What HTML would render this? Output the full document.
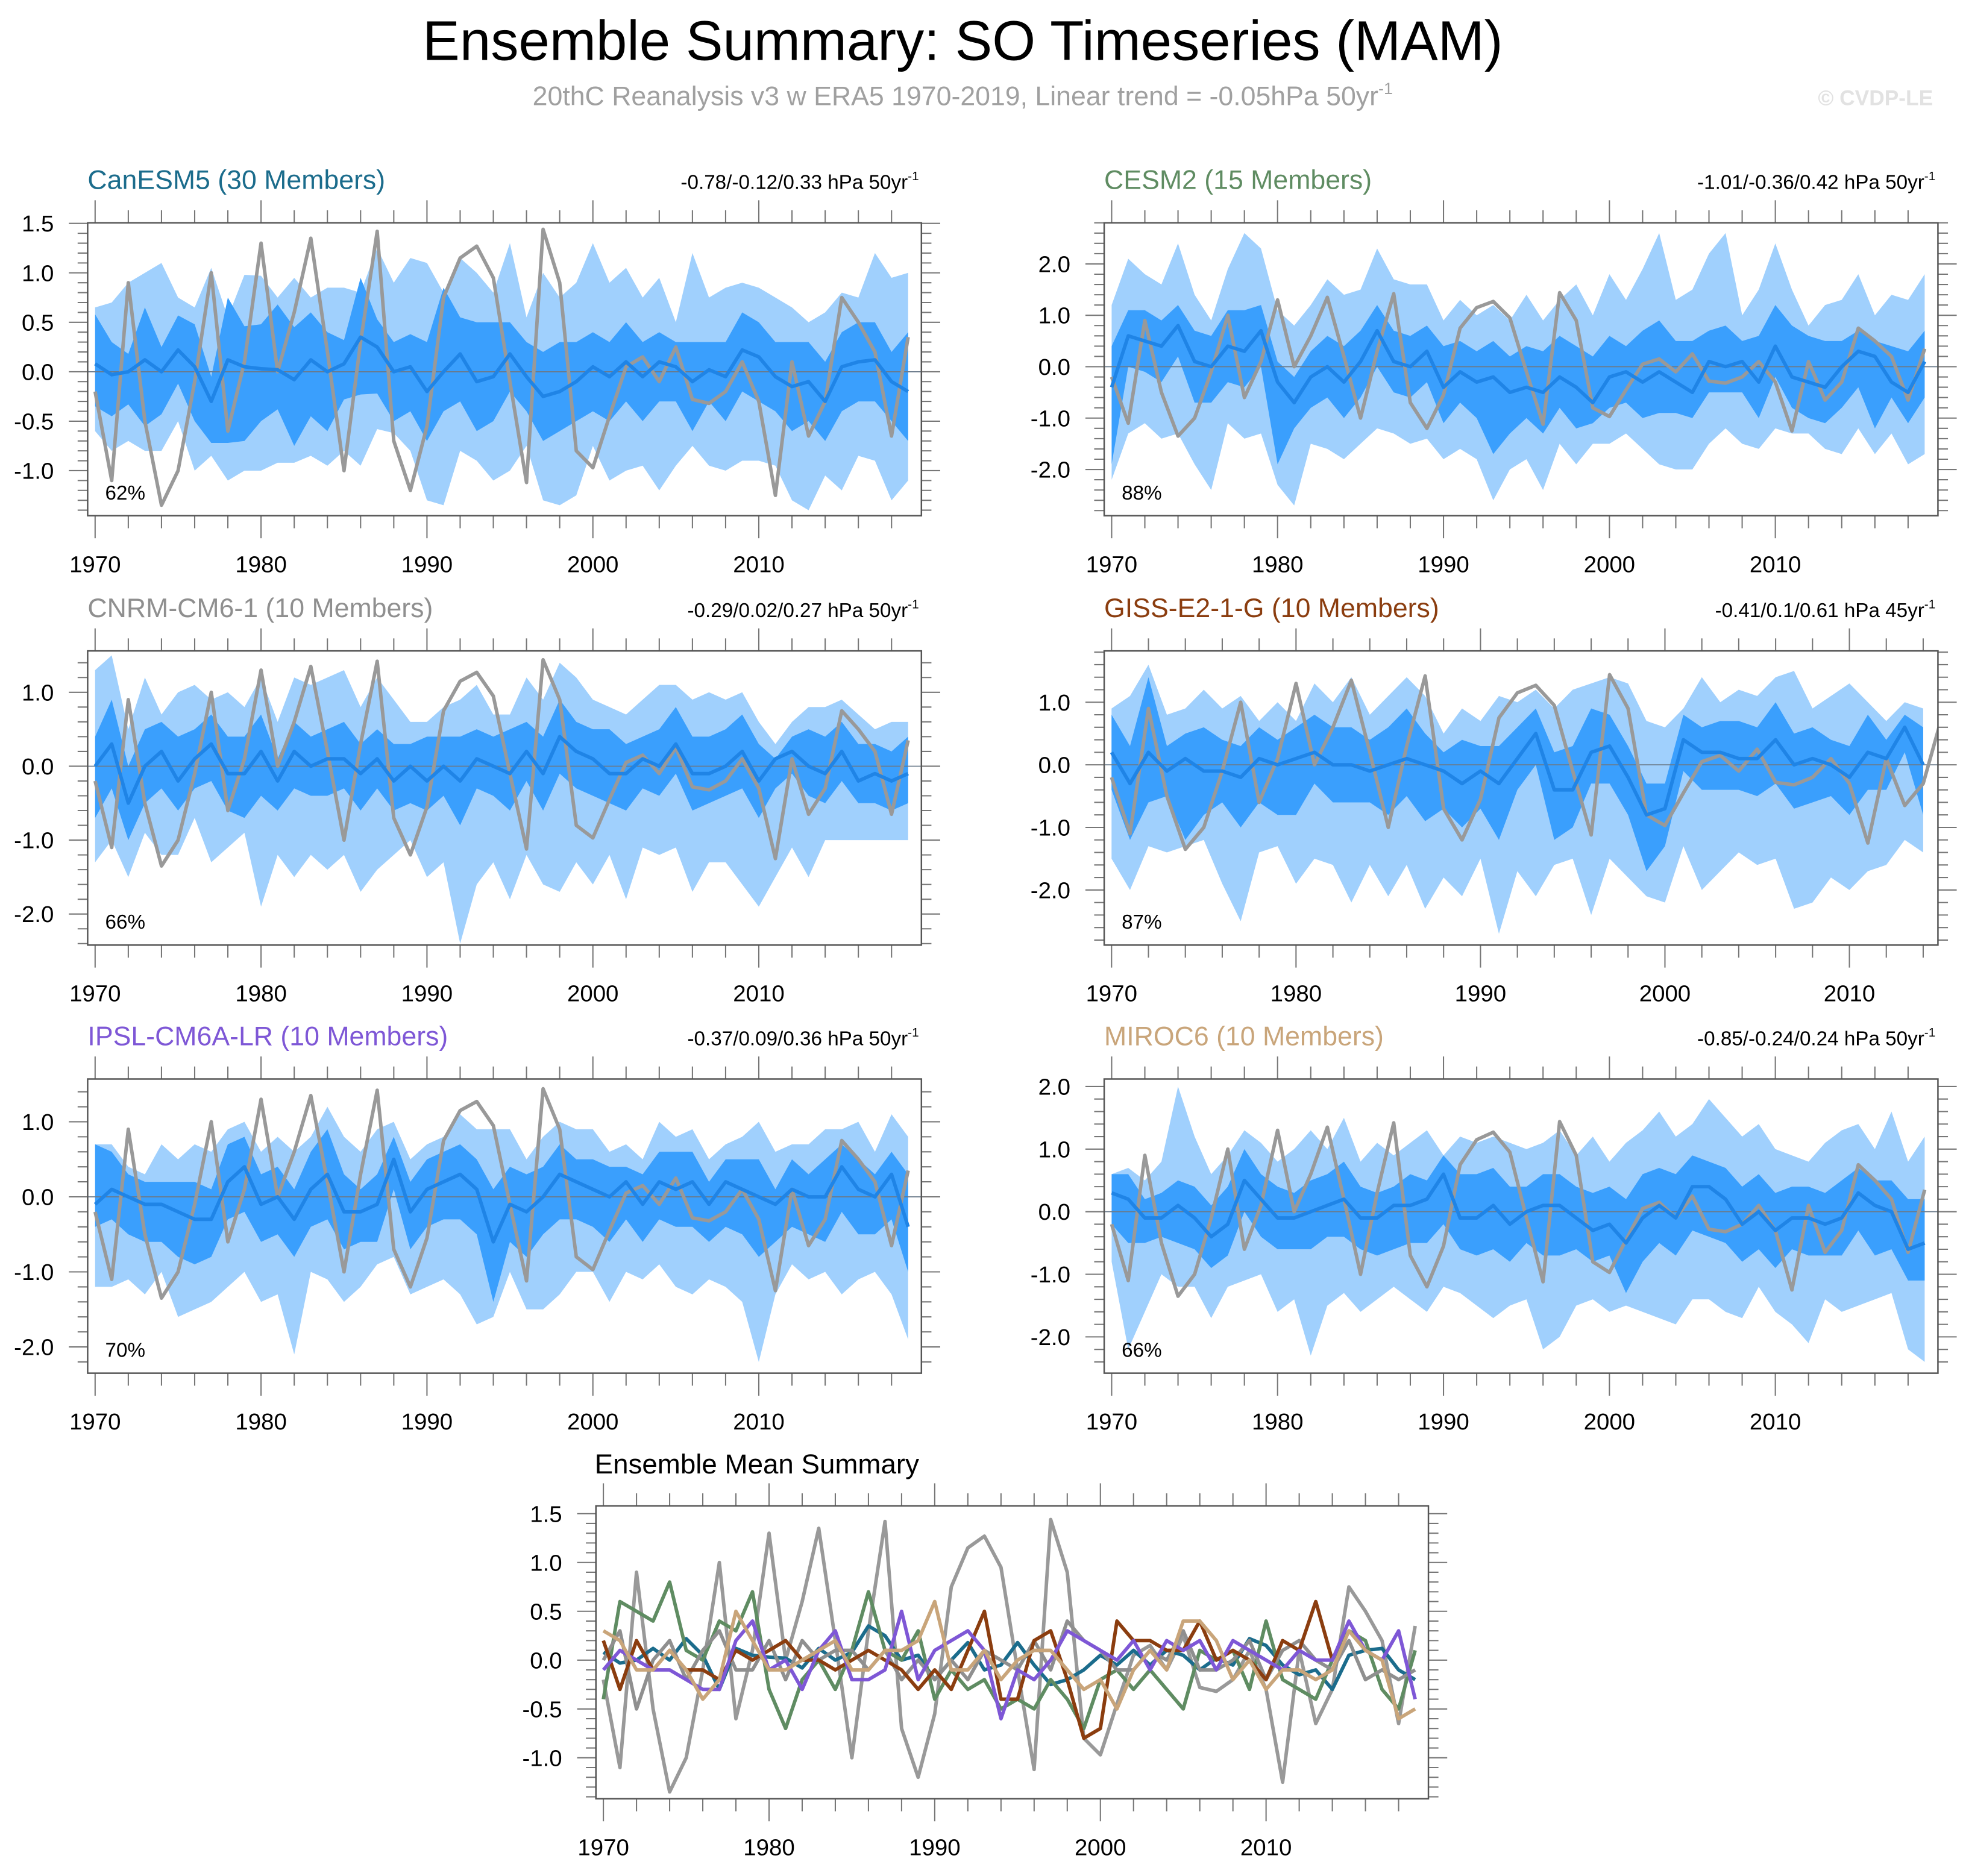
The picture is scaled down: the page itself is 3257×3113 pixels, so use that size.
<!DOCTYPE html>
<html><head><meta charset="utf-8"><style>
html,body{margin:0;padding:0;background:#fff;}
svg{display:block;font-family:"Liberation Sans",sans-serif;}
</style></head><body>
<svg id="chart" width="3257" height="3113" viewBox="0 0 1568 1498.7" xmlns="http://www.w3.org/2000/svg">
<text x="769" y="48" font-size="44.5" text-anchor="middle" fill="#000">Ensemble Summary: SO Timeseries (MAM)</text>
<text x="769" y="84" font-size="21.5" text-anchor="middle" fill="#a0a0a0">20thC Reanalysis v3 w ERA5 1970-2019, Linear trend = -0.05hPa 50yr<tspan font-size="13" dy="-9">-1</tspan></text>
<text x="1544" y="84" font-size="17" font-weight="bold" text-anchor="end" fill="#e2e2e2">© CVDP-LE</text>
<g id="plots"></g>
</svg>
<script>
const years = [];
for (let y = 1970; y <= 2019; y++) years.push(y);
const obs = [-0.2,-1.1,0.9,-0.5,-1.35,-1.0,-0.1,1.0,-0.6,0.1,1.3,0.0,0.6,1.35,0.2,-1.0,0.3,1.42,-0.7,-1.2,-0.55,0.75,1.15,1.27,0.95,-0.1,-1.12,1.44,0.9,-0.8,-0.97,-0.45,0.05,0.15,-0.1,0.25,-0.28,-0.32,-0.2,0.1,-0.3,-1.25,0.1,-0.65,-0.3,0.75,0.5,0.2,-0.65,0.35];

const canMean = [0.08,-0.03,0.0,0.12,0.0,0.22,0.05,-0.3,0.12,0.05,0.03,0.02,-0.08,0.12,0.0,0.08,0.35,0.25,0.0,0.05,-0.2,0.0,0.18,-0.1,-0.05,0.18,-0.05,-0.25,-0.2,-0.1,0.05,-0.05,0.1,-0.05,0.1,0.05,-0.1,0.02,-0.05,0.22,0.15,-0.05,-0.15,-0.1,-0.3,0.05,0.1,0.12,-0.1,-0.2];
const canOutHi = [0.65,0.7,0.9,1.0,1.1,0.75,0.65,1.05,0.55,0.98,0.97,0.75,0.95,0.75,0.85,0.85,0.8,1.25,0.9,1.15,1.1,0.8,1.15,1.0,0.8,1.3,0.55,1.0,0.75,0.9,1.3,0.9,1.05,0.75,0.95,0.5,1.2,0.75,0.85,0.9,0.85,0.75,0.65,0.5,0.6,0.8,0.75,1.2,0.95,1.0];
const canOutLo = [-0.6,-0.8,-0.7,-0.8,-0.8,-0.5,-1.0,-0.85,-1.1,-1.0,-1.0,-0.92,-0.92,-0.85,-0.95,-0.8,-0.95,-0.58,-0.62,-0.8,-1.3,-1.35,-0.8,-0.9,-1.1,-1.0,-0.75,-1.3,-1.35,-1.25,-0.75,-1.1,-1.0,-0.95,-1.2,-0.95,-0.75,-0.95,-1.0,-0.9,-0.9,-0.95,-1.3,-1.4,-1.05,-1.2,-0.85,-0.9,-1.3,-1.1];
const canInHi = [0.58,0.3,0.18,0.65,0.25,0.57,0.48,-0.05,0.75,0.46,0.48,0.68,0.45,0.6,0.4,0.32,0.95,0.53,0.3,0.38,0.3,0.85,0.55,0.5,0.5,0.5,0.3,0.2,0.3,0.3,0.4,0.3,0.5,0.3,0.4,0.3,0.3,0.3,0.3,0.6,0.5,0.3,0.3,0.3,0.1,0.4,0.5,0.5,0.2,0.4];
const canInLo = [-0.35,-0.45,-0.33,-0.55,-0.43,-0.12,-0.5,-0.72,-0.72,-0.7,-0.5,-0.38,-0.75,-0.45,-0.6,-0.28,-0.23,-0.22,-0.5,-0.4,-0.7,-0.4,-0.3,-0.6,-0.5,-0.2,-0.4,-0.7,-0.6,-0.5,-0.4,-0.5,-0.3,-0.5,-0.3,-0.3,-0.6,-0.3,-0.5,-0.2,-0.3,-0.4,-0.6,-0.5,-0.7,-0.4,-0.3,-0.3,-0.5,-0.7];

const cesmMean = [-0.4,0.6,0.5,0.4,0.8,0.1,0.0,0.4,0.3,0.7,-0.3,-0.7,-0.2,0.0,-0.3,0.1,0.7,0.1,0.0,0.3,-0.4,-0.1,-0.3,-0.2,-0.5,-0.4,-0.5,-0.2,-0.4,-0.7,-0.2,-0.1,-0.3,-0.1,-0.3,-0.5,0.1,0.0,0.1,-0.3,0.4,-0.2,-0.3,-0.4,0.0,0.3,0.2,-0.3,-0.5,0.1];
const cesmOutHi = [1.2,2.1,1.8,1.6,2.4,1.4,0.9,1.9,2.6,2.3,1.1,0.8,1.2,1.7,1.4,1.5,2.3,1.7,1.6,1.6,0.9,1.3,1.0,1.2,0.9,1.4,0.9,1.3,1.6,1.0,1.8,1.3,1.9,2.6,1.3,1.5,2.2,2.6,1.0,1.5,2.4,1.5,0.8,1.2,1.3,1.8,1.0,1.4,1.3,1.8];
const cesmOutLo = [-2.2,-1.3,-1.1,-1.4,-1.3,-1.9,-2.4,-1.1,-1.4,-1.3,-2.3,-2.7,-1.5,-1.6,-1.8,-1.5,-1.2,-1.3,-1.5,-1.4,-1.8,-1.6,-1.8,-2.6,-2.0,-1.8,-2.4,-1.5,-1.9,-1.5,-1.5,-1.3,-1.6,-1.9,-2.0,-2.0,-1.5,-1.2,-1.5,-1.6,-1.2,-1.3,-1.3,-1.6,-1.7,-1.2,-1.7,-1.3,-1.9,-1.7];
const cesmInHi = [0.4,1.1,1.1,0.9,1.2,0.7,0.6,1.1,1.1,1.2,0.1,-0.2,0.3,0.6,0.4,0.7,1.2,0.7,0.6,0.8,0.4,0.5,0.3,0.5,0.2,0.4,0.3,0.6,0.4,0.2,0.6,0.4,0.7,0.9,0.5,0.5,0.7,0.8,0.5,0.6,1.2,0.8,0.6,0.5,0.5,0.7,0.5,0.4,0.3,0.7];
const cesmInLo = [-1.9,0.0,-0.1,-0.3,0.2,-0.7,-0.7,-0.3,-0.4,0.0,-1.9,-1.2,-0.8,-0.6,-1.0,-0.6,0.0,-0.5,-0.6,-0.3,-1.1,-0.7,-1.0,-1.7,-1.3,-1.0,-1.3,-0.8,-1.2,-1.1,-0.8,-0.7,-1.0,-0.9,-0.9,-1.0,-0.5,-0.5,-0.5,-1.0,-0.2,-0.8,-1.0,-1.1,-0.8,-0.4,-1.2,-0.6,-1.1,-0.6];

const cnrmMean = [0.0,0.3,-0.5,0.0,0.2,-0.2,0.1,0.3,-0.1,-0.1,0.2,-0.2,0.2,0.0,0.1,0.1,-0.1,0.1,-0.2,0.0,-0.2,0.0,-0.2,0.1,0.0,-0.1,0.2,-0.1,0.4,0.2,0.1,-0.1,-0.1,0.1,0.0,0.3,-0.1,-0.1,0.0,0.2,-0.2,0.1,0.2,0.0,-0.1,0.2,-0.2,-0.1,-0.2,-0.1];
const cnrmOutHi = [1.3,1.5,0.5,1.2,0.7,1.0,1.1,0.9,1.0,0.8,1.2,0.6,1.2,1.1,1.2,1.3,0.8,1.2,0.9,0.6,0.6,0.8,0.9,1.1,0.7,0.7,1.2,0.9,1.4,1.2,0.9,0.8,0.7,0.9,1.1,1.1,0.9,1.0,0.9,1.0,0.6,0.3,0.6,0.8,0.8,0.9,0.7,0.5,0.6,0.6];
const cnrmOutLo = [-1.3,-1.0,-1.5,-0.9,-1.2,-1.2,-0.7,-1.3,-1.1,-0.9,-1.9,-1.2,-1.5,-1.2,-1.4,-1.2,-1.7,-1.4,-1.2,-1.0,-1.5,-1.3,-2.4,-1.6,-1.3,-1.8,-1.2,-1.6,-1.7,-1.3,-1.6,-1.2,-1.8,-1.1,-1.2,-1.1,-1.7,-1.3,-1.3,-1.6,-1.9,-1.5,-1.1,-1.5,-1.0,-1.0,-1.0,-1.0,-1.0,-1.0];
const cnrmInHi = [0.4,0.9,0.0,0.5,0.6,0.4,0.5,0.7,0.4,0.4,0.7,0.1,0.6,0.4,0.5,0.6,0.3,0.5,0.3,0.3,0.4,0.4,0.4,0.5,0.4,0.5,0.6,0.4,0.9,0.6,0.5,0.5,0.3,0.4,0.5,0.8,0.4,0.4,0.5,0.7,0.3,0.1,0.4,0.5,0.4,0.6,0.3,0.3,0.2,0.4];
const cnrmInLo = [-0.7,-0.3,-1.0,-0.5,-0.3,-0.6,-0.3,-0.2,-0.6,-0.7,-0.4,-0.6,-0.3,-0.4,-0.4,-0.3,-0.6,-0.3,-0.6,-0.5,-0.6,-0.4,-0.8,-0.3,-0.4,-0.6,-0.2,-0.6,-0.1,-0.3,-0.4,-0.5,-0.6,-0.3,-0.4,-0.1,-0.6,-0.5,-0.4,-0.3,-0.7,-0.3,-0.1,-0.4,-0.5,-0.2,-0.5,-0.5,-0.6,-0.5];

const gissMean = [0.2,-0.3,0.2,-0.1,0.1,-0.1,-0.1,-0.2,0.1,0.0,0.1,0.2,0.0,0.0,-0.1,0.0,0.1,0.0,-0.1,-0.3,-0.1,-0.3,0.1,0.5,-0.4,-0.4,0.2,0.3,-0.2,-0.8,-0.7,0.4,0.2,0.2,0.1,0.1,0.4,0.0,0.1,0.0,-0.2,0.2,0.1,0.6,0.0];
const gissOutHi = [0.9,1.1,1.6,0.8,0.9,1.2,0.9,1.1,0.7,1.0,0.7,1.3,1.0,1.4,0.8,1.1,1.4,1.1,0.5,0.9,0.7,1.1,1.0,1.2,0.9,1.2,1.3,1.4,1.3,0.7,0.6,0.9,1.4,1.0,1.2,1.1,1.4,1.5,0.9,1.1,1.3,1.0,0.7,1.0,0.9];
const gissOutLo = [-1.5,-2.0,-1.3,-1.4,-1.3,-1.2,-1.9,-2.5,-1.4,-1.3,-1.9,-1.5,-1.6,-2.2,-1.6,-2.1,-1.6,-2.3,-1.8,-2.1,-1.5,-2.7,-1.7,-2.1,-1.6,-1.5,-2.4,-1.5,-1.8,-2.1,-2.2,-1.3,-2.0,-1.7,-1.4,-1.6,-1.5,-2.3,-2.2,-1.8,-2.0,-1.7,-1.6,-1.2,-1.4];
const gissInHi = [0.8,0.3,1.4,0.3,0.5,0.6,0.4,0.3,0.6,0.4,0.6,0.8,0.6,0.6,0.4,0.6,0.9,0.5,0.2,0.4,0.3,0.3,0.6,0.9,0.2,0.3,0.9,0.8,0.3,-0.3,-0.3,0.8,0.6,0.7,0.7,0.6,1.0,0.5,0.6,0.4,0.3,0.8,0.4,0.8,0.6];
const gissInLo = [-0.4,-1.2,-0.6,-0.5,-1.2,-0.8,-0.6,-1.0,-0.6,-0.8,-0.8,-0.3,-0.6,-0.6,-0.6,-0.8,-0.5,-0.9,-0.7,-1.0,-0.7,-1.2,-0.4,0.0,-1.2,-1.0,-0.3,-0.3,-0.8,-1.7,-1.3,-0.1,-0.4,-0.4,-0.4,-0.5,-0.3,-0.7,-0.6,-0.5,-0.8,-0.4,-0.4,0.2,-0.8];

const ipslMean = [-0.1,0.1,0.0,-0.1,-0.1,-0.2,-0.3,-0.3,0.2,0.4,-0.1,0.0,-0.3,0.1,0.3,-0.2,-0.2,-0.1,0.5,-0.2,0.1,0.2,0.3,0.1,-0.6,-0.1,-0.2,0.0,0.3,0.2,0.1,0.0,0.2,-0.1,0.2,0.1,0.2,-0.1,0.2,0.1,0.0,-0.1,0.1,0.0,0.0,0.4,0.1,0.0,0.3,-0.4];
const ipslOutHi = [0.7,0.7,0.4,0.3,0.7,0.5,0.7,0.6,0.9,1.0,0.6,0.8,0.6,0.8,1.2,0.8,0.6,0.9,1.0,0.5,0.7,0.8,1.1,0.9,0.9,0.9,0.5,0.8,1.0,0.9,0.9,0.6,0.7,0.5,1.0,0.8,0.9,0.5,0.7,0.8,1.0,0.6,0.7,0.7,0.9,0.9,1.0,0.6,1.1,0.8];
const ipslOutLo = [-1.2,-1.2,-1.1,-1.3,-1.0,-1.6,-1.5,-1.4,-1.2,-1.0,-1.4,-1.3,-2.1,-1.0,-1.1,-1.4,-1.2,-0.9,-0.8,-1.3,-1.2,-1.1,-1.3,-1.7,-1.6,-1.0,-1.5,-1.5,-1.3,-1.0,-1.0,-1.4,-1.0,-1.1,-0.9,-1.2,-1.3,-1.1,-1.2,-1.4,-2.2,-1.3,-0.9,-1.1,-1.0,-1.3,-1.1,-1.0,-1.3,-1.9];
const ipslInHi = [0.7,0.6,0.3,0.2,0.2,0.2,0.2,0.1,0.7,0.8,0.3,0.4,0.1,0.6,0.9,0.3,0.1,0.3,0.8,0.2,0.5,0.6,0.7,0.5,0.1,0.4,0.3,0.4,0.7,0.5,0.5,0.4,0.4,0.3,0.6,0.6,0.6,0.2,0.5,0.5,0.5,0.1,0.5,0.3,0.5,0.7,0.5,0.3,0.6,0.3];
const ipslInLo = [-0.4,-0.3,-0.5,-0.6,-0.6,-0.8,-0.9,-0.8,-0.3,-0.2,-0.6,-0.5,-0.8,-0.4,-0.3,-0.7,-0.6,-0.6,0.1,-0.7,-0.4,-0.3,-0.3,-0.5,-1.4,-0.6,-0.8,-0.5,-0.3,-0.3,-0.4,-0.6,-0.3,-0.6,-0.3,-0.4,-0.4,-0.6,-0.4,-0.5,-0.8,-0.6,-0.4,-0.5,-0.6,-0.2,-0.5,-0.5,-0.3,-1.0];

const mirocMean = [0.3,0.2,-0.1,-0.1,0.1,-0.1,-0.4,-0.2,0.5,0.2,-0.1,-0.1,0.0,0.1,0.2,-0.1,-0.1,0.1,0.1,0.2,0.6,-0.1,-0.1,0.1,-0.2,0.0,0.1,0.1,-0.1,-0.3,-0.2,-0.5,-0.1,0.1,-0.1,0.4,0.4,0.2,-0.2,0.0,-0.3,-0.1,-0.1,-0.2,-0.1,0.3,0.1,0.0,-0.6,-0.5];
const mirocOutHi = [0.6,0.7,0.5,0.8,2.0,1.2,0.6,0.9,1.3,1.1,0.8,1.0,1.3,1.0,1.5,0.8,1.1,0.9,1.1,1.3,0.9,1.2,1.1,1.2,1.1,1.0,1.1,1.3,0.9,1.2,0.8,1.1,1.3,1.6,1.2,1.4,1.8,1.5,1.2,1.4,1.0,0.9,0.8,1.1,1.3,1.4,1.0,1.6,0.8,1.2];
const mirocOutLo = [-0.8,-2.2,-1.6,-1.0,-1.2,-1.2,-1.7,-1.2,-1.1,-1.0,-1.6,-1.4,-2.3,-1.5,-1.3,-1.6,-1.4,-1.2,-1.4,-1.6,-1.2,-1.3,-1.5,-1.7,-1.5,-1.4,-2.2,-2.0,-1.5,-1.4,-1.6,-1.5,-1.6,-1.7,-1.8,-1.4,-1.4,-1.6,-1.7,-1.2,-1.6,-1.8,-2.1,-1.4,-1.6,-1.5,-1.4,-1.3,-2.2,-2.4];
const mirocInHi = [0.6,0.6,0.2,0.3,0.5,0.4,0.1,0.4,1.0,0.6,0.4,0.3,0.5,0.6,0.8,0.4,0.3,0.4,0.6,0.5,0.9,0.6,0.6,0.7,0.4,0.4,0.6,0.6,0.4,0.3,0.4,0.2,0.6,0.7,0.6,0.9,0.8,0.7,0.4,0.6,0.3,0.4,0.4,0.3,0.5,0.7,0.5,0.5,0.2,0.2];
const mirocInLo = [-0.2,-0.5,-0.5,-0.4,-0.5,-0.6,-0.9,-0.7,0.0,-0.4,-0.6,-0.6,-0.6,-0.4,-0.4,-0.6,-0.7,-0.6,-0.5,-0.5,-0.2,-0.6,-0.7,-0.6,-0.8,-0.5,-0.7,-0.7,-0.6,-0.8,-0.7,-1.3,-0.8,-0.5,-0.7,-0.3,-0.4,-0.5,-0.8,-0.6,-0.9,-0.6,-0.7,-0.7,-0.7,-0.3,-0.7,-0.6,-1.1,-1.1];

const xTickLabels = ["1970","1980","1990","2000","2010"];
const modelNames = ["CanESM5 (30 Members)","CESM2 (15 Members)","CNRM-CM6-1 (10 Members)","GISS-E2-1-G (10 Members)","IPSL-CM6A-LR (10 Members)","MIROC6 (10 Members)"];
const trendLabels = ["-0.78/-0.12/0.33 hPa 50yr","-1.01/-0.36/0.42 hPa 50yr","-0.29/0.02/0.27 hPa 50yr","-0.41/0.1/0.61 hPa 45yr","-0.37/0.09/0.36 hPa 50yr","-0.85/-0.24/0.24 hPa 50yr"];
const pctLabels = ["62%","88%","66%","87%","70%","66%"];

const NS = "http://www.w3.org/2000/svg";
const root = document.getElementById('plots');
function mk(tag, attrs, parent) {
  const e = document.createElementNS(NS, tag);
  for (const k in attrs) e.setAttribute(k, attrs[k]);
  (parent || root).appendChild(e);
  return e;
}

const panels = [
  {key:'canesm5', color:'#1b6c8c', box:[70,178,736,412], xr:[1969.55,2019.8], yr:[1.506,-1.456], yt:[-1,-0.5,0,0.5,1,1.5], minor:0.1, mean:canMean, oh:canOutHi, ol:canOutLo, ih:canInHi, il:canInLo},
  {key:'cesm2', color:'#5f8c62', box:[882,178,1548,412], xr:[1969.55,2019.8], yr:[2.8,-2.9], yt:[-2,-1,0,1,2], minor:0.2, mean:cesmMean, oh:cesmOutHi, ol:cesmOutLo, ih:cesmInHi, il:cesmInLo},
  {key:'cnrm-cm6-1', color:'#8f8f8f', box:[70,520,736,755], xr:[1969.55,2019.8], yr:[1.56,-2.42], yt:[-2,-1,0,1], minor:0.2, mean:cnrmMean, oh:cnrmOutHi, ol:cnrmOutLo, ih:cnrmInHi, il:cnrmInLo},
  {key:'giss-e2-1-g', color:'#8b3d0f', box:[882,520,1548,755], xr:[1969.6,2014.8], yr:[1.82,-2.88], yt:[-2,-1,0,1], minor:0.2, mean:gissMean, oh:gissOutHi, ol:gissOutLo, ih:gissInHi, il:gissInLo},
  {key:'ipsl-cm6a-lr', color:'#7e57d6', box:[70,862,736,1097], xr:[1969.55,2019.8], yr:[1.57,-2.35], yt:[-2,-1,0,1], minor:0.2, mean:ipslMean, oh:ipslOutHi, ol:ipslOutLo, ih:ipslInHi, il:ipslInLo},
  {key:'miroc6', color:'#c9a57a', box:[882,862,1548,1097], xr:[1969.55,2019.8], yr:[2.12,-2.58], yt:[-2,-1,0,1,2], minor:0.2, mean:mirocMean, oh:mirocOutHi, ol:mirocOutLo, ih:mirocInHi, il:mirocInLo}
];

function axes(p) {
  const [x0,y0,x1,y1] = p.box;
  const sx = v => x0 + (v - p.xr[0]) / (p.xr[1] - p.xr[0]) * (x1 - x0);
  const sy = v => y0 + (p.yr[0] - v) / (p.yr[0] - p.yr[1]) * (y1 - y0);
  return {sx, sy};
}

function drawFrame(p, g, sx, sy, lastYear) {
  const [x0,y0,x1,y1] = p.box;
  for (let yr = 1970; yr <= lastYear; yr += 2) {
    const major = (yr % 10 === 0);
    const L = major ? 18 : 10;
    const x = sx(yr);
    const t1 = mk('line',{x1:x,y1:y1,x2:x,y2:y1+L,stroke:'#777','stroke-width':1},g);
    
    
    const t2 = mk('line',{x1:x,y1:y0,x2:x,y2:y0-L,stroke:'#777','stroke-width':1},g);
    
    
  }
  xTickLabels.forEach(lbl => {
    const v = +lbl;
    if (v > lastYear) return;
    const t = mk('text',{x:sx(v),y:y1+45,'font-size':18.5,'text-anchor':'middle',fill:'#000'},g);
    
    
    t.textContent = lbl;
  });
  const ymin = p.yt[0] - 1, ymax = p.yt[p.yt.length-1] + 1;
  for (let v = ymin; v <= ymax + 1e-9; v += p.minor) {
    const vv = Math.round(v*100)/100;
    if (vv > p.yr[0] || vv < p.yr[1]) continue;
    const isMaj = p.yt.some(t => Math.abs(t - vv) < 1e-6);
    const L = isMaj ? 15 : 8;
    const y = sy(vv);
    const a = mk('line',{x1:x0,y1:y,x2:x0-L,y2:y,stroke:'#777','stroke-width':1},g);
    
    
    const b = mk('line',{x1:x1,y1:y,x2:x1+L,y2:y,stroke:'#777','stroke-width':1},g);
    
    
  }
  p.yt.forEach(v => {
    const t = mk('text',{x:x0-27,y:sy(v)+6.5,'font-size':18.5,'text-anchor':'end',fill:'#000'},g);
    
    
    t.textContent = v.toFixed(1);
  });
  const r = mk('rect',{x:x0,y:y0,width:x1-x0,height:y1-y0,fill:'none',stroke:'#555','stroke-width':1.2},g);
  
  
}

function band(hi, lo, sx, sy, fill, g, name) {
  let d = '';
  hi.forEach((v,i) => { d += (i ? 'L' : 'M') + sx(years[i]).toFixed(2) + ',' + sy(v).toFixed(2); });
  for (let i = lo.length - 1; i >= 0; i--) d += 'L' + sx(years[i]).toFixed(2) + ',' + sy(lo[i]).toFixed(2);
  const e = mk('path',{d:d+'Z',fill:fill,stroke:'none'},g);
  
  
}
function line(vals, sx, sy, color, w, g, name) {
  const pts = vals.map((v,i) => sx(years[i]).toFixed(2) + ',' + sy(v).toFixed(2)).join(' ');
  const e = mk('polyline',{points:pts,fill:'none',stroke:color,'stroke-width':w,'stroke-linejoin':'round'},g);
  
  
}

panels.forEach((p, idx) => {
  const g = mk('g',{});
  
  
  const {sx, sy} = axes(p);
  const [x0,y0,x1,y1] = p.box;
  const clipId = 'clip' + idx;
  const cp = mk('clipPath',{id:clipId},g);
  mk('rect',{x:x0,y:y0,width:x1-x0,height:y1-y0},cp);
  const inner = mk('g',{'clip-path':'url(#'+clipId+')'},g);
  
  
  band(p.oh, p.ol, sx, sy, '#a0d0fd', inner, 'outer-spread-band');
  band(p.ih, p.il, sx, sy, '#3a9ffd', inner, 'inner-spread-band');
  const z = mk('line',{x1:x0,y1:sy(0),x2:x1,y2:sy(0),stroke:'#6a7a8a','stroke-width':0.8},inner);
  
  
  line(obs, sx, sy, '#999999', 2.8, inner, 'observed-line');
  line(p.mean, sx, sy, '#1f84e6', 2.8, inner, 'ensemble-mean-line');
  drawFrame(p, g, sx, sy, 1969 + p.mean.length);
  const tt = mk('text',{x:x0,y:y0-27,'font-size':21.5,fill:p.color},g);
  
  
  tt.textContent = modelNames[idx];
  const tr = mk('text',{x:x1-2,y:y0-27,'font-size':16,'text-anchor':'end',fill:'#000'},g);
  
  
  tr.textContent = trendLabels[idx];
  const sup = mk('tspan',{'font-size':10,dy:-7},tr);
  sup.textContent = '-1';
  const pc = mk('text',{x:x0+14,y:y1-13,'font-size':16,fill:'#000'},g);
  
  
  pc.textContent = pctLabels[idx];
});

const sumP = {box:[476,1203,1141,1437], xr:[1969.55,2019.8], yr:[1.58,-1.42], yt:[-1,-0.5,0,0.5,1,1.5], minor:0.1};
const sg = mk('g',{});


const sa = axes(sumP);
const scp = mk('clipPath',{id:'clipS'},sg);
mk('rect',{x:476,y:1203,width:665,height:234},scp);
const sin = mk('g',{'clip-path':'url(#clipS)'},sg);


line(obs, sa.sx, sa.sy, '#999999', 2.8, sin, 'observed-line');
panels.forEach(p => {
  line(p.mean, sa.sx, sa.sy, p.color, 2.8, sin, p.key + '-mean-line');
});
drawFrame(sumP, sg, sa.sx, sa.sy, 2019);
const st = mk('text',{x:475,y:1177,'font-size':22,fill:'#000'},sg);


st.textContent = 'Ensemble Mean Summary';
</script>
</body></html>
